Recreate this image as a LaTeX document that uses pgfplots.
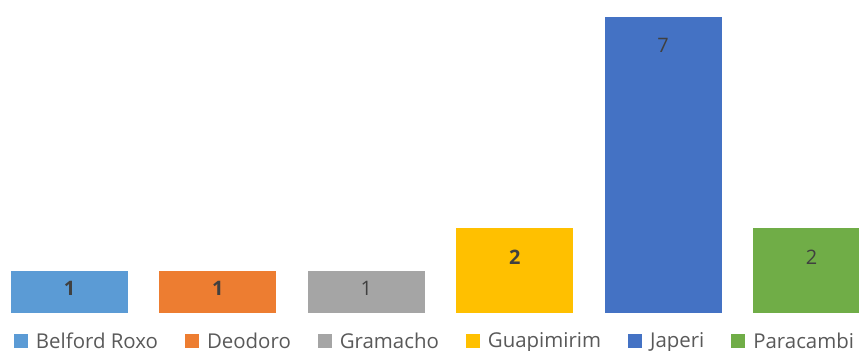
\documentclass[border=0pt]{standalone}
\usepackage{pgfplots}
\pgfplotsset{compat=1.18}
\usepackage{fontspec}
\setmainfont{Open Sans}
\definecolor{c1}{HTML}{5B9BD5}
\definecolor{c2}{HTML}{ED7D31}
\definecolor{c3}{HTML}{A5A5A5}
\definecolor{c4}{HTML}{FFC000}
\definecolor{c5}{HTML}{4472C4}
\definecolor{c6}{HTML}{70AD47}
\definecolor{lbl}{HTML}{404040}
\definecolor{leg}{HTML}{595959}
\pgfplotsset{
  sq/.style={legend image code/.code={\fill[##1] (0bp,-7bp) rectangle (14bp,7bp); \path (22bp,0bp);}},
  lab/.style={nodes near coords={\pgfmathprintnumber[assume math mode=true]{\pgfplotspointmeta}},
    every node near coord/.append style={font=\fontsize{20}{24}\selectfont#1, text=lbl, anchor=center}},
}
\begin{document}
\begin{tikzpicture}
\begin{axis}[
  at={(0bp,38bp)}, anchor=south west,
  scale only axis, width=859bp, height=313.03bp,
  xmin=-0.4684, xmax=5.3201, ymin=0, ymax=7.4,
  axis lines=none, ticks=none,
  clip=true,
  legend columns=6,
  legend style={draw=none, fill=none, inner sep=0pt, outer sep=0pt,
    at={(axis description cs:0,0)}, anchor=west, xshift=14bp, yshift=-28bp,
    font=\fontsize{20.5}{24}\selectfont, text=leg,
    nodes={inner sep=0pt},
    /tikz/every even column/.append style={column sep=27bp}},
]
\addplot[ybar, bar width=117bp, bar shift=0pt, fill=c1, draw=none, sq,
  lab=\bfseries, every node near coord/.append style={yshift=-18bp}]
  coordinates {(0,1)};
\addlegendentry{Belford Roxo}
\addplot[ybar, bar width=117bp, bar shift=0pt, fill=c2, draw=none, sq,
  lab=\bfseries, every node near coord/.append style={yshift=-18bp}]
  coordinates {(1,1)};
\addlegendentry{Deodoro}
\addplot[ybar, bar width=117bp, bar shift=0pt, fill=c3, draw=none, sq,
  lab=, every node near coord/.append style={yshift=-18bp}]
  coordinates {(2,1)};
\addlegendentry{Gramacho}
\addplot[ybar, bar width=117bp, bar shift=0pt, fill=c4, draw=none, sq,
  lab=\bfseries, every node near coord/.append style={yshift=-28.5bp}]
  coordinates {(3,2)};
\addlegendentry{Guapimirim}
\addplot[ybar, bar width=117bp, bar shift=0pt, fill=c5, draw=none, sq,
  lab=, every node near coord/.append style={yshift=-28.5bp}]
  coordinates {(4,7)};
\addlegendentry{Japeri}
\addplot[ybar, bar width=117bp, bar shift=0pt, fill=c6, draw=none, sq,
  lab=, every node near coord/.append style={yshift=-28.5bp}]
  coordinates {(5,2)};
\addlegendentry{Paracambi}
\end{axis}
\pgfresetboundingbox
\path[use as bounding box] (0,0) rectangle (859bp,351bp);
\end{tikzpicture}
\end{document}
